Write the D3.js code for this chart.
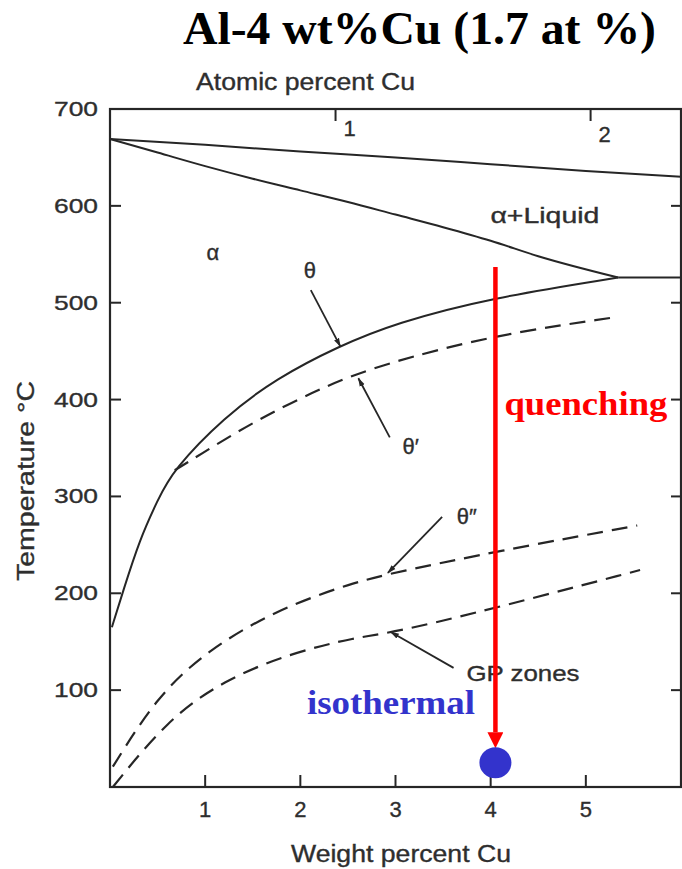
<!DOCTYPE html>
<html>
<head>
<meta charset="utf-8">
<script src="https://cdn.jsdelivr.net/npm/d3@7"></script>
<style>
  body { margin: 0; background: #fff; }
  svg { display: block; }
  .scan { font-family: "Liberation Sans", Arial, sans-serif; fill: #2e2e2e; stroke: #2e2e2e; stroke-width: 0.35px; }
</style>
</head>
<body>
<svg class="chart" width="682" height="869"></svg>
<script>
// phase boundaries (wt% Cu, temperature in C)
const liquidusWt = [0, 1, 2, 3, 4, 5, 6]
const liquidusT = [669, 663, 656, 650, 643, 636, 630]
const solidusWt = [0, 0.5, 1, 1.5, 2, 2.5, 3, 3.5, 4, 4.5, 5.34]
const solidusT = [669, 655, 641, 628, 616, 604, 591, 578, 564, 548, 526]
const eutecticWt = [5.34, 6]
const eutecticT = [526, 526]
const thetaWt = [0.02, 0.14, 0.31, 0.5, 0.66, 1.2, 1.75, 2.4, 3, 4, 5.34]
const thetaT = [165, 203, 255, 296, 327, 382, 422, 455, 479, 505, 526]
const thetaPrimeWt = [0.68, 0.91, 1.54, 2.24, 2.84, 4.05, 5.31]
const thetaPrimeT = [327, 341, 379, 413, 436, 467, 485]
const theta2Wt = [0.03, 0.49, 1.02, 1.75, 2.55, 3.02, 4.05, 5.54]
const theta2T = [21, 93, 141, 183, 211, 222, 243, 270]
const gpWt = [0.03, 0.6, 1.19, 1.89, 2.6, 2.97, 4.1, 5.57]
const gpT = [0, 69, 110, 138, 155, 159, 186, 224]

// axis ticks
const wtTicks = [1, 2, 3, 4, 5]
const tempTicks = [100, 200, 300, 400, 500, 600, 700]
const atTicks = ['1', '2']
const atTickWt = [2.37, 5.05]

// labels and pointers [wt, T]
const regionLabels = [
  { text: 'α', at: [1.08, 552] },
  { text: 'α+Liquid', at: [4.57, 591], len: 109 },
  { text: 'θ', at: [2.10, 534] },
  { text: 'θ′', at: [3.16, 352] },
  { text: 'θ″', at: [3.75, 280] },
  { text: 'GP zones', at: [4.34, 118], len: 113 }
]
const pointers = [
  [[2.11, 513], [2.42, 455]],
  [[2.94, 361], [2.61, 422]],
  [[3.49, 279], [2.92, 221]],
  [[3.61, 123], [2.95, 160]]
]

// the alloy and its heat treatment
const alloyWt = 4.05
const quenchFrom = 537
const quenchTo = 40
const agingT = 25

const svg = d3.select('.chart')
const x = d3.scaleLinear().domain([0, 6]).range([110, 681])
const y = d3.scaleLinear().domain([0, 700]).range([787, 109])
const ink = '#262626'

function pairs (xs, ys) {
  return xs.map(function (d, i) { return [d, ys[i]] })
}

const line = d3.line()
  .x(function (d) { return x(d[0]) })
  .y(function (d) { return y(d[1]) })
  .curve(d3.curveMonotoneX)

// smoother version for the hand drawn solvus curves
const smooth = d3.line()
  .x(function (d) { return x(d[0]) })
  .y(function (d) { return y(d[1]) })
  .curve(d3.curveBasis)

// title
svg.append('text')
  .attr('x', 183)
  .attr('y', 44)
  .attr('font-family', '"Liberation Serif", "Times New Roman", serif')
  .attr('font-weight', 'bold')
  .attr('font-size', 46)
  .attr('textLength', 473)
  .attr('lengthAdjust', 'spacingAndGlyphs')
  .text('Al-4 wt%Cu (1.7 at %)')

// frame
svg.append('rect')
  .attr('x', x(0))
  .attr('y', y(700))
  .attr('width', x(6) - x(0))
  .attr('height', y(0) - y(700))
  .attr('fill', 'none')
  .attr('stroke', ink)
  .attr('stroke-width', 2.2)

// inward ticks
const g = svg.append('g')
g.selectAll('.tb').data(wtTicks).enter().append('line')
  .attr('x1', function (d) { return x(d) }).attr('x2', function (d) { return x(d) })
  .attr('y1', y(0)).attr('y2', y(0) - 12)
  .attr('stroke', ink).attr('stroke-width', 2)
g.selectAll('.tl').data(tempTicks).enter().append('line')
  .attr('x1', x(0)).attr('x2', x(0) + 11)
  .attr('y1', function (d) { return y(d) }).attr('y2', function (d) { return y(d) })
  .attr('stroke', ink).attr('stroke-width', 2)
g.selectAll('.tr').data(tempTicks.slice(0, -1)).enter().append('line')
  .attr('x1', x(6)).attr('x2', x(6) - 10)
  .attr('y1', function (d) { return y(d) }).attr('y2', function (d) { return y(d) })
  .attr('stroke', ink).attr('stroke-width', 2)
g.selectAll('.tt').data(atTickWt).enter().append('line')
  .attr('x1', function (d) { return x(d) }).attr('x2', function (d) { return x(d) })
  .attr('y1', y(700)).attr('y2', y(700) + 12)
  .attr('stroke', ink).attr('stroke-width', 2)

// tick labels
svg.selectAll('.xl').data(wtTicks).enter().append('text')
  .attr('class', 'scan')
  .attr('x', function (d) { return x(d) })
  .attr('y', 817)
  .attr('text-anchor', 'middle')
  .attr('font-size', 22)
  .text(function (d) { return d })
svg.selectAll('.yl').data(tempTicks).enter().append('text')
  .attr('class', 'scan')
  .attr('x', 54)
  .attr('y', function (d) { return y(d) + 7 })
  .attr('font-size', 21)
  .attr('textLength', 44)
  .attr('lengthAdjust', 'spacingAndGlyphs')
  .text(function (d) { return d })
svg.selectAll('.al').data(atTicks).enter().append('text')
  .attr('class', 'scan')
  .attr('x', function (d, i) { return x(atTickWt[i]) + 14 })
  .attr('y', function (d, i) { return 136 + i * 6 })
  .attr('text-anchor', 'middle')
  .attr('font-size', 22)
  .text(function (d) { return d })

// axis titles
svg.append('text').attr('class', 'scan')
  .attr('x', 196).attr('y', 90)
  .attr('font-size', 23)
  .attr('textLength', 219).attr('lengthAdjust', 'spacingAndGlyphs')
  .text('Atomic percent Cu')
svg.append('text').attr('class', 'scan')
  .attr('x', 291).attr('y', 862)
  .attr('font-size', 23)
  .attr('textLength', 220).attr('lengthAdjust', 'spacingAndGlyphs')
  .text('Weight percent Cu')
svg.append('text').attr('class', 'scan')
  .attr('transform', 'translate(34,481) rotate(-90)')
  .attr('text-anchor', 'middle')
  .attr('font-size', 24)
  .attr('textLength', 200).attr('lengthAdjust', 'spacingAndGlyphs')
  .text('Temperature °C')

// phase boundaries
const solid = [
  pairs(liquidusWt, liquidusT),
  pairs(solidusWt, solidusT),
  pairs(eutecticWt, eutecticT)
]
svg.append('g').selectAll('path').data(solid).enter().append('path')
  .attr('d', line)
  .attr('fill', 'none')
  .attr('stroke', ink)
  .attr('stroke-width', 2)

svg.append('path')
  .attr('d', smooth(pairs(thetaWt, thetaT)))
  .attr('fill', 'none')
  .attr('stroke', ink)
  .attr('stroke-width', 2)

const dashed = [
  pairs(thetaPrimeWt, thetaPrimeT),
  pairs(theta2Wt, theta2T),
  pairs(gpWt, gpT)
]
svg.append('g').selectAll('path').data(dashed).enter().append('path')
  .attr('d', smooth)
  .attr('fill', 'none')
  .attr('stroke', ink)
  .attr('stroke-width', 2.2)
  .attr('stroke-dasharray', '16,9')

// pointer arrows
const defs = svg.append('defs')
defs.append('marker')
  .attr('id', 'pt')
  .attr('viewBox', '0 0 10 10')
  .attr('refX', 9).attr('refY', 5)
  .attr('markerWidth', 9).attr('markerHeight', 9)
  .attr('markerUnits', 'userSpaceOnUse')
  .attr('orient', 'auto')
  .append('path').attr('d', 'M0,2 L10,5 L0,8 Z').attr('fill', ink)
defs.append('marker')
  .attr('id', 'red')
  .attr('viewBox', '0 0 10 10')
  .attr('refX', 0).attr('refY', 5)
  .attr('markerWidth', 16).attr('markerHeight', 16)
  .attr('markerUnits', 'userSpaceOnUse')
  .attr('orient', 'auto')
  .append('path').attr('d', 'M0,0 L10,5 L0,10 Z').attr('fill', '#ff0000')

svg.append('g').selectAll('line').data(pointers).enter().append('line')
  .attr('x1', function (d) { return x(d[0][0]) })
  .attr('y1', function (d) { return y(d[0][1]) })
  .attr('x2', function (d) { return x(d[1][0]) })
  .attr('y2', function (d) { return y(d[1][1]) })
  .attr('stroke', ink)
  .attr('stroke-width', 1.8)
  .attr('marker-end', 'url(#pt)')

svg.append('g').selectAll('text').data(regionLabels).enter().append('text')
  .attr('class', 'scan')
  .attr('x', function (d) { return x(d.at[0]) })
  .attr('y', function (d) { return y(d.at[1]) + 8 })
  .attr('text-anchor', 'middle')
  .attr('font-size', 22)
  .attr('textLength', function (d) { return d.len || null })
  .attr('lengthAdjust', 'spacingAndGlyphs')
  .text(function (d) { return d.text })

// quench and aging
svg.append('line')
  .attr('x1', x(alloyWt)).attr('x2', x(alloyWt))
  .attr('y1', y(quenchFrom)).attr('y2', y(quenchTo) - 16)
  .attr('stroke', '#ff0000')
  .attr('stroke-width', 4.5)
  .attr('marker-end', 'url(#red)')
svg.append('ellipse')
  .attr('cx', x(alloyWt)).attr('cy', y(agingT))
  .attr('rx', 16).attr('ry', 15.5)
  .attr('fill', '#3333cc')

svg.append('text')
  .attr('x', x(alloyWt) + 9).attr('y', 415)
  .attr('font-family', '"Liberation Serif", "Times New Roman", serif')
  .attr('font-weight', 'bold')
  .attr('font-size', 34)
  .attr('fill', '#ff0000')
  .attr('textLength', 163).attr('lengthAdjust', 'spacingAndGlyphs')
  .text('quenching')
svg.append('text')
  .attr('x', 307).attr('y', 714)
  .attr('font-family', '"Liberation Serif", "Times New Roman", serif')
  .attr('font-weight', 'bold')
  .attr('font-size', 34)
  .attr('fill', '#3333cc')
  .attr('textLength', 168).attr('lengthAdjust', 'spacingAndGlyphs')
  .text('isothermal')
</script>
</body>
</html>
